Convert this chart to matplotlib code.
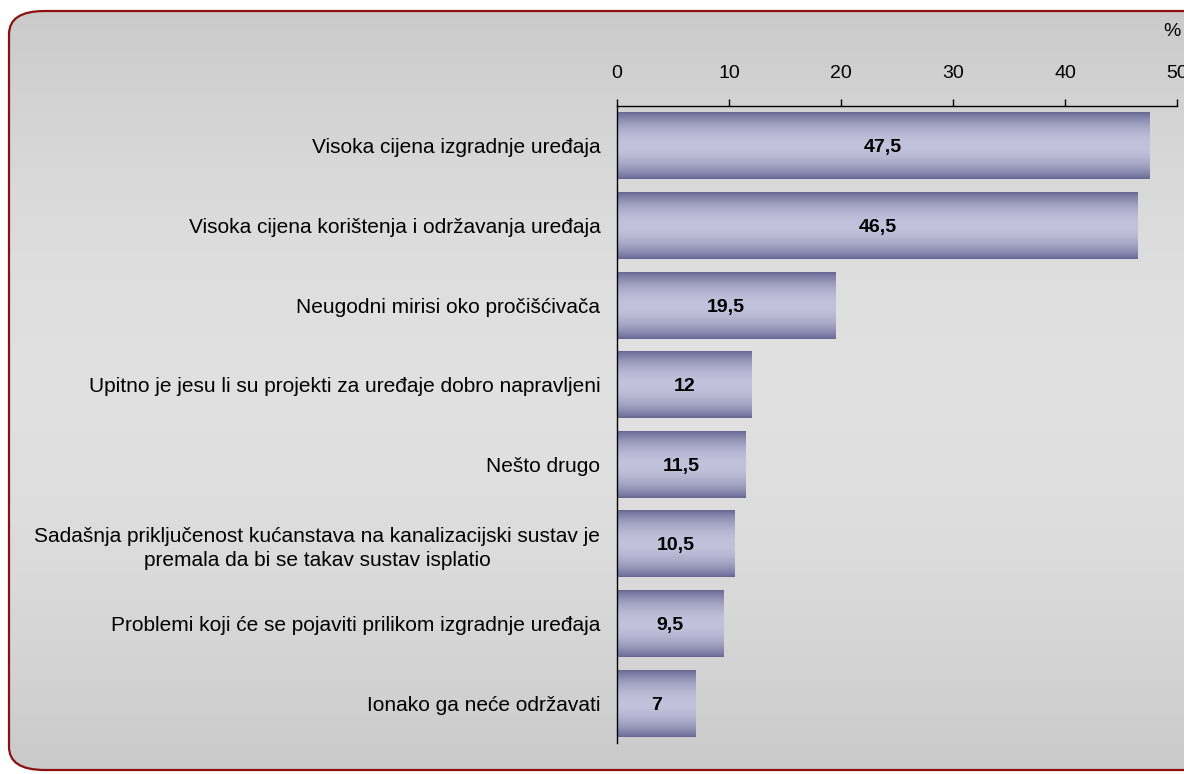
import numpy as np
import matplotlib.pyplot as plt
from matplotlib.patches import FancyBboxPatch

categories = [
    'Visoka cijena izgradnje uređaja',
    'Visoka cijena korištenja i održavanja uređaja',
    'Neugodni mirisi oko pročišćivača',
    'Upitno je jesu li su projekti za uređaje dobro napravljeni',
    'Nešto drugo',
    'Sadašnja priključenost kućanstava na kanalizacijski sustav je\npremala da bi se takav sustav isplatio',
    'Problemi koji će se pojaviti prilikom izgradnje uređaja',
    'Ionako ga neće održavati',
]
values = [47.5, 46.5, 19.5, 12, 11.5, 10.5, 9.5, 7]
value_labels = ['47,5', '46,5', '19,5', '12', '11,5', '10,5', '9,5', '7']
xticks = [0, 10, 20, 30, 40, 50]

plt.rcParams['font.family'] = ['Liberation Sans', 'DejaVu Sans']

fig = plt.figure(figsize=(11.84, 7.74), dpi=100)

# background panel with rounded red frame and grey gradient
bg = fig.add_axes([0, 0, 1, 1])
bg.axis('off')
frame = FancyBboxPatch((9 / 1184, 4 / 774), 1.2, 759 / 774,
                       boxstyle='round,pad=0,rounding_size=0.03',
                       facecolor='none', edgecolor='#8b1010', linewidth=1.6,
                       transform=bg.transAxes, zorder=3)
bg.add_patch(frame)
t = np.linspace(0, 1, 256)
shade = 0.79 + 0.09 * np.sin(np.pi * t)
grad = np.stack([shade, shade, shade], axis=-1)[:, None, :].repeat(2, axis=1)
im = bg.imshow(grad, extent=(0, 1.2, 0, 1), aspect='auto', zorder=1)
im.set_clip_path(frame)
bg.set_xlim(0, 1)
bg.set_ylim(0, 1)

ax = fig.add_axes([617 / 1184, 1 - 743 / 774, 560 / 1184, 637 / 774])
ax.patch.set_alpha(0)

y = np.arange(len(values))
h = 0.84
bars = ax.barh(y, values, height=h, color='none', edgecolor='none')

# vertical gradient inside each bar
s = np.linspace(0, 1, 128)
mix = np.sin(np.pi * s) ** 0.8
dark = np.array([0.40, 0.40, 0.58])
light = np.array([0.76, 0.76, 0.86])
bar_grad = (dark[None, :] * (1 - mix[:, None]) + light[None, :] * mix[:, None])
bar_grad = bar_grad[:, None, :].repeat(2, axis=1)
for yi, v in zip(y, values):
    ax.imshow(bar_grad, extent=(0, v, yi + h / 2, yi - h / 2),
              aspect='auto', zorder=2, interpolation='bilinear')

for yi, v, lab in zip(y, values, value_labels):
    ax.text(v / 2, yi, lab, ha='center', va='center_baseline',
            fontsize=14, fontweight='bold', color='black', zorder=3)

ax.set_xlim(0, 50)
ax.set_ylim(len(values) - 0.5, -0.5)
ax.set_aspect('auto')
ax.xaxis.tick_top()
ax.set_xticks(xticks)
ax.set_xticklabels([str(x) for x in xticks], fontsize=14)
ax.tick_params(axis='x', direction='out', length=5, width=1, pad=12)
ax.set_yticks(y)
ax.set_yticklabels(categories, fontsize=15, multialignment='center',
                   linespacing=1.35)
ax.tick_params(axis='y', length=0, pad=12)
for side in ['right', 'bottom']:
    ax.spines[side].set_visible(False)
for side in ['left', 'top']:
    ax.spines[side].set_linewidth(1)

fig.text(1172 / 1184, 1 - 31 / 774, '%', ha='center', va='center', fontsize=14)

fig.savefig('out.png', dpi=100)
